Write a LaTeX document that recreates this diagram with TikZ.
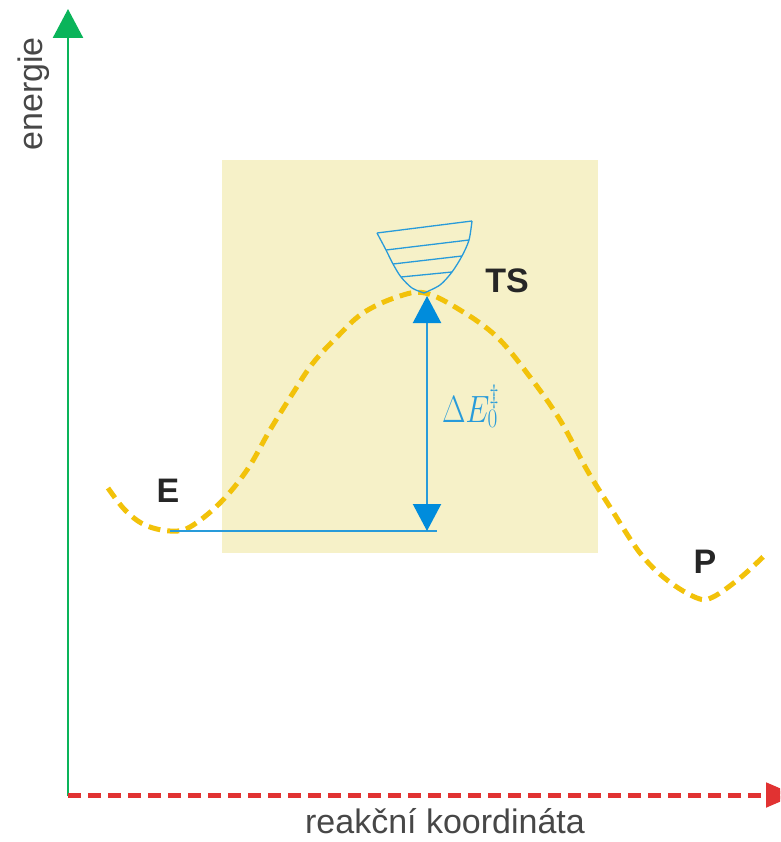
\RequirePackage{fix-cm}
\documentclass[tikz,border=0pt]{standalone}
\usepackage[no-math]{fontspec}
\setmainfont{Liberation Sans}
\usetikzlibrary{arrows.meta}
\definecolor{txt}{RGB}{38,38,38}
\definecolor{boxfill}{RGB}{246,241,200}
\definecolor{curvey}{RGB}{242,194,10}
\definecolor{blueln}{RGB}{40,155,218}
\definecolor{bluetip}{RGB}{0,140,220}
\definecolor{axgreen}{RGB}{10,180,90}
\definecolor{axred}{RGB}{225,50,50}
\tikzset{
  lbl/.style={text=txt,font=\fontsize{34}{36}\selectfont\bfseries,inner sep=0pt},
  axlabel/.style={text=txt!85,font=\fontsize{34}{36}\selectfont,inner sep=0pt},
  well/.style={draw=blueln,line width=1.3pt},
  energycurve/.style={draw=curvey,line width=5pt,dash pattern=on 12pt off 7pt},
}
\begin{document}
\begin{tikzpicture}[x=1pt,y=-1pt]
\useasboundingbox (0,0) rectangle (780,842);
\clip (0,0) rectangle (780,842);
% background box
\fill[boxfill] (222,160) rectangle (598,553);
% axes
\coordinate (origin) at (68,796);
\coordinate (ytip) at (68,9);
\coordinate (xtip) at (796,795);
\draw[axgreen,line width=2.6pt,-{Triangle[length=29pt,width=30pt]}] (origin) -- (ytip);
\draw[axred,line width=5pt,dash pattern=on 13pt off 7pt,-{Triangle[length=30pt,width=24pt]}] (68,795) -- (xtip);
\node[axlabel,rotate=90] (elabel) at (34,94) {energie};
\node[axlabel,anchor=base] (xlabel) at (445,833) {reakční koordináta};
% energy curve
\draw[energycurve] plot[smooth,tension=0.6] coordinates {
 (108,488) (125,510) (145,525) (170,531) (190,527) (220,503) (247,470) (270,430)
 (293,393) (313,363) (337,337) (363,313) (397,297) (425,293) (460,310) (497,337)
 (530,377) (560,420) (587,470) (610,507) (640,553) (667,580) (697,598) (713,597)
 (740,578) (764,556)};
% levels
\coordinate (emin) at (170,531);
\coordinate (ebot) at (427,531);
\coordinate (tstop) at (427,296);
\draw[blueln,line width=1.8pt] (emin) -- (437,531);
\draw[blueln,line width=2.2pt,{Triangle[length=27pt,width=28pt,color=bluetip]}-{Triangle[length=27pt,width=28pt,color=bluetip]}] (tstop) -- (ebot);
% vibrational well
\draw[well] plot[smooth] coordinates {(377,233) (386,250) (393,264) (401,277) (412,288) (424,293)};
\draw[well] plot[smooth] coordinates {(472,221) (469,240) (462,256) (452,272) (440,285) (424,293)};
\draw[well] (377,233) -- (472,221);
\draw[well] (386,250) -- (469,240);
\draw[well] (393,264) -- (462,256);
\draw[well] (401,277) -- (452,272);
% labels
\node[lbl] (E) at (168,491) {E};
\node[lbl] (TS) at (507,281) {TS};
\node[lbl] (P) at (705,562) {P};
\node[anchor=base west,inner sep=0pt,text=blueln] (dE) at (442,422)
  {\scalebox{0.8}[1]{\fontsize{38}{40}\selectfont$\Delta E_0^{\ddagger}$}};
\end{tikzpicture}
\end{document}
